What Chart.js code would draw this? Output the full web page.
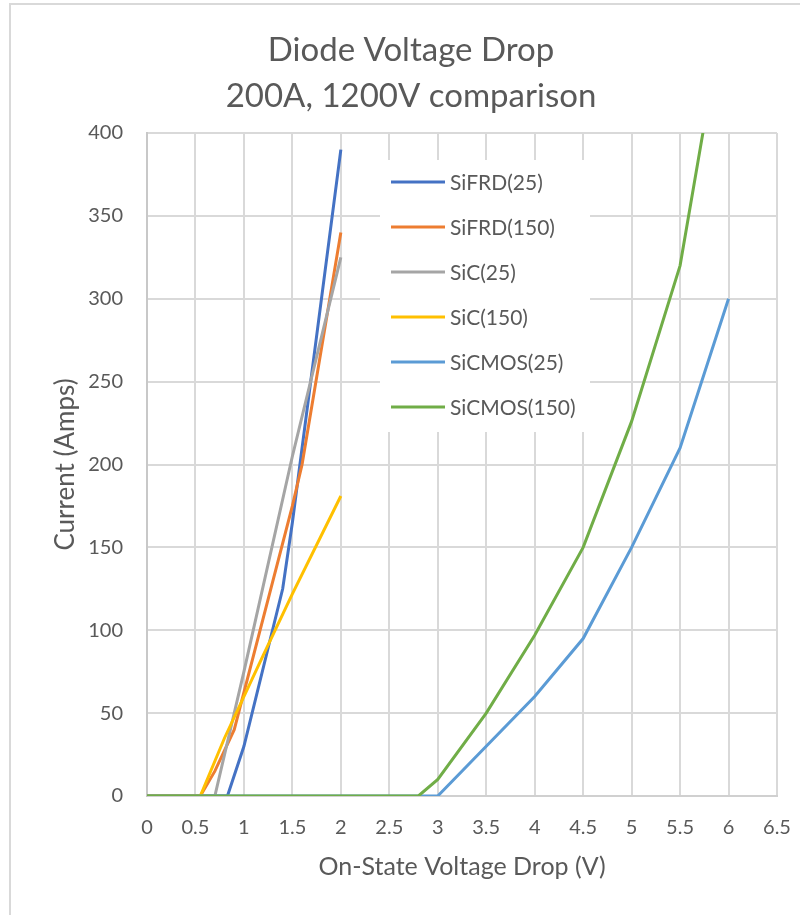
<!DOCTYPE html>
<html>
<head>
<meta charset="utf-8">
<script src="https://cdn.jsdelivr.net/npm/chart.js@4.4.1/dist/chart.umd.min.js"></script>
<style>
  html, body { margin: 0; padding: 0; background: #ffffff; }
  #wrap { width: 800px; height: 915px; position: relative; }
</style>
</head>
<body>
<div id="wrap"><canvas id="c" width="800" height="915"></canvas></div>
<script>
// ---- data ----
const seriesNames = ['SiFRD(25)', 'SiFRD(150)', 'SiC(25)', 'SiC(150)', 'SiCMOS(25)', 'SiCMOS(150)'];
const seriesColors = ['#4472C4', '#ED7D31', '#A5A5A5', '#FFC000', '#5B9BD5', '#70AD47'];

const sifrd25X  = [0, 0.83, 1, 1.4, 1.5, 2];
const sifrd25Y  = [0, 0, 30, 125, 165, 390];
const sifrd150X = [0, 0.55, 0.7, 0.9, 1.5, 1.6, 2];
const sifrd150Y = [0, 0, 15, 40, 175, 200, 340];
const sic25X    = [0, 0.7, 1, 1.5, 2];
const sic25Y    = [0, 0, 75, 205, 325];
const sic150X   = [0, 0.55, 0.8, 1.2, 1.5, 2];
const sic150Y   = [0, 0, 35, 85, 122, 181];
const sicmos25X = [0, 3, 3.5, 4, 4.5, 5, 5.5, 6];
const sicmos25Y = [0, 0, 30, 60, 95, 150, 210, 300];
const sicmos150X = [0, 2.8, 3, 3.5, 4, 4.5, 5, 5.5, 6];
const sicmos150Y = [0, 0, 10, 50, 97, 150, 226, 320, 490];

const xTicks = [0, 0.5, 1, 1.5, 2, 2.5, 3, 3.5, 4, 4.5, 5, 5.5, 6, 6.5];
const yTicks = [0, 50, 100, 150, 200, 250, 300, 350, 400];

const titleLines = ['Diode Voltage Drop', '200A, 1200V comparison'];
const xTitle = 'On-State Voltage Drop (V)';
const yTitle = 'Current (Amps)';

// ---- build ----
const xs = [sifrd25X, sifrd150X, sic25X, sic150X, sicmos25X, sicmos150X];
const ys = [sifrd25Y, sifrd150Y, sic25Y, sic150Y, sicmos25Y, sicmos150Y];
const FONT = 'Lato, "Open Sans", sans-serif';
const TEXT = '#595959';

const datasets = seriesNames.map((name, i) => ({
  label: name,
  data: xs[i].map((x, j) => ({ x: x, y: ys[i][j] })),
  borderColor: seriesColors[i],
  backgroundColor: seriesColors[i],
  borderWidth: 3,
  pointRadius: 0,
  pointHoverRadius: 0,
  showLine: true,
  tension: 0,
  fill: false,
  order: seriesNames.length - 1 - i
}));

const frameAndLegend = {
  id: 'frameAndLegend',
  beforeDraw(chart) {
    const ctx = chart.ctx;
    ctx.save();
    ctx.strokeStyle = '#d9d9d9';
    ctx.lineWidth = 2;
    ctx.strokeRect(10, 4, 830, 940);
    ctx.restore();
  },
  afterDatasetsDraw(chart) {
    const ctx = chart.ctx;
    ctx.save();
    ctx.fillStyle = '#ffffff';
    ctx.fillRect(380, 160, 210, 272);
    ctx.font = '21px ' + FONT;
    ctx.textBaseline = 'middle';
    ctx.textAlign = 'left';
    seriesNames.forEach((name, i) => {
      const y = 182 + i * 45;
      ctx.strokeStyle = seriesColors[i];
      ctx.lineWidth = 3;
      ctx.beginPath();
      ctx.moveTo(391, y);
      ctx.lineTo(445, y);
      ctx.stroke();
      ctx.fillStyle = TEXT;
      ctx.fillText(name, 450, y + 1);
    });
    ctx.restore();
  }
};

new Chart(document.getElementById('c'), {
  type: 'scatter',
  data: { datasets: datasets },
  plugins: [frameAndLegend],
  options: {
    responsive: false,
    animation: false,
    devicePixelRatio: 1,
    layout: { padding: { left: 45, right: 23, top: 0, bottom: 0 } },
    plugins: {
      legend: { display: false },
      tooltip: { enabled: false },
      title: {
        display: true,
        text: titleLines,
        color: TEXT,
        font: { family: FONT, size: 33, weight: 'normal', lineHeight: 46 / 33 },
        padding: { top: 27, bottom: 14 }
      }
    },
    scales: {
      x: {
        type: 'linear',
        min: 0, max: 6.5,
        afterBuildTicks(scale) { scale.ticks = xTicks.map(v => ({ value: v })); },
        afterFit(scale) { scale.height = 119; scale.paddingRight = 0; scale.paddingLeft = 0; },
        ticks: { color: TEXT, font: { family: FONT, size: 20 }, padding: 20, maxRotation: 0, autoSkip: false,
                 callback: (v) => String(v) },
        grid: { color: '#d9d9d9', lineWidth: 2, drawTicks: false },
        border: { display: true, color: '#d0d0d0', width: 2 },
        title: { display: true, text: xTitle, color: TEXT, font: { family: FONT, size: 25 }, padding: { top: 0, bottom: 33 } }
      },
      y: {
        type: 'linear',
        min: 0, max: 400,
        afterBuildTicks(scale) { scale.ticks = yTicks.map(v => ({ value: v })); },
        afterFit(scale) { scale.width = 102; },
        ticks: { color: TEXT, font: { family: FONT, size: 20 }, padding: 24, callback: (v) => String(v) },
        grid: { color: '#d9d9d9', lineWidth: 2, drawTicks: false },
        border: { display: true, color: '#c8c8c8', width: 2 },
        title: { display: true, text: yTitle, color: TEXT, font: { family: FONT, size: 26 }, padding: { top: 5, bottom: 0 } }
      }
    }
  }
});
</script>
</body>
</html>
